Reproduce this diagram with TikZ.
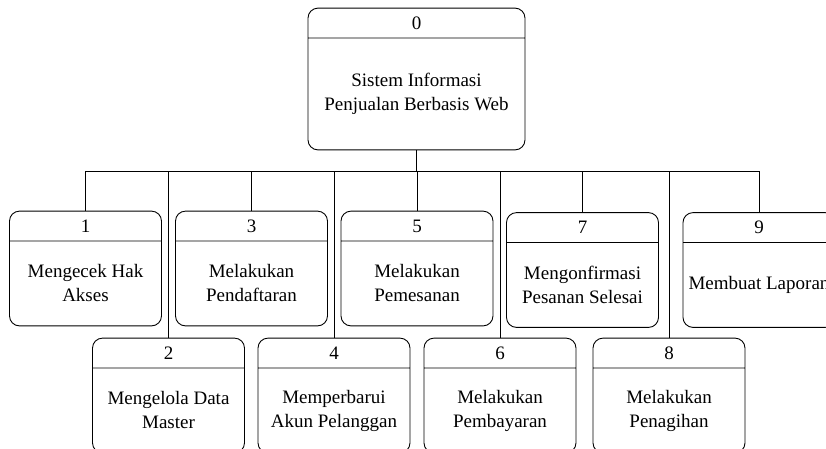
\documentclass[tikz,border=0pt]{standalone}
\usepackage{fontspec}
\setmainfont{Liberation Serif}
\usepackage{tikz}
\usetikzlibrary{shapes.multipart, positioning}

\newcommand{\procpart}[4]{\parbox[c][29pt]{#1}{\centering #3}\nodepart{two}\parbox[c][#2]{#1}{\centering #4}}

\begin{document}
\begin{tikzpicture}[x=1pt, y=-1pt,
    proc/.style={draw, rounded corners=10pt, rectangle split, rectangle split parts=2, inner sep=0pt, line width=0.9pt, font=\fontsize{19pt}{24pt}\selectfont},
    link/.style={line width=1pt}
]
    \useasboundingbox (0,0) rectangle (826,448);
    \clip (0,0) rectangle (826,448);
    \node[proc] at (416.5,79) (p0) {\procpart{217pt}{111pt}{0}{Sistem Informasi\\Penjualan Berbasis Web}};
    \node[proc] at (85.5,268.5) (p1) {\procpart{152pt}{84pt}{1}{Mengecek Hak\\Akses}};
    \node[proc] at (168.5,395.5) (p2) {\procpart{152pt}{84pt}{2}{Mengelola Data\\Master}};
    \node[proc] at (251.5,268.5) (p3) {\procpart{152pt}{84pt}{3}{Melakukan\\Pendaftaran}};
    \node[proc] at (334,395.5) (p4) {\procpart{152pt}{84pt}{4}{Memperbarui\\Akun Pelanggan}};
    \node[proc] at (417,268.5) (p5) {\procpart{152pt}{84pt}{5}{Melakukan\\Pemesanan}};
    \node[proc] at (500,395.5) (p6) {\procpart{152pt}{84pt}{6}{Melakukan\\Pembayaran}};
    \node[proc] at (582.5,270) (p7) {\procpart{152pt}{84pt}{7}{Mengonfirmasi\\Pesanan Selesai}};
    \node[proc] at (669,395.5) (p8) {\procpart{152pt}{84pt}{8}{Melakukan\\Penagihan}};
    \node[proc] at (759,270) (p9) {\procpart{152pt}{84pt}{9}{Membuat Laporan}};
    \coordinate (bus) at (416.5,171);
    \draw[link, line width=1.8pt] (p0) -- (bus);
    \foreach \n in {1,...,9}
        \draw[link] (p\n.north) |- (bus);
\end{tikzpicture}
\end{document}
